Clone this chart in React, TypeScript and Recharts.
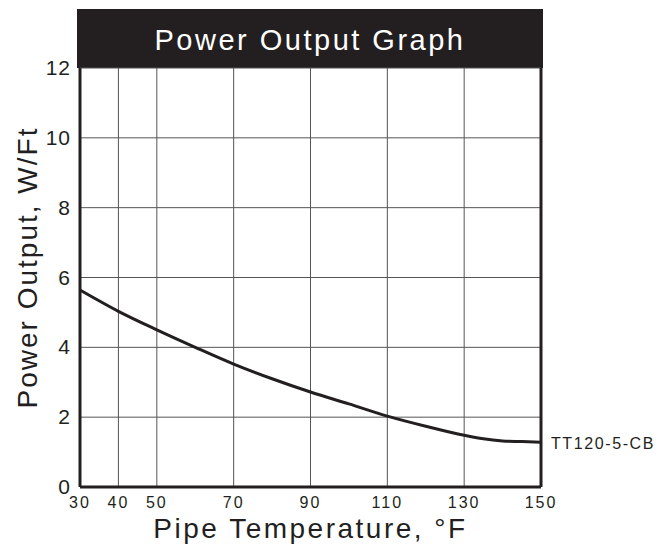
import React from 'react'
import { LineChart, Line, XAxis, YAxis, CartesianGrid, ReferenceLine, Label, LabelList } from 'recharts'

// Power output of TT120-5-CB vs. pipe temperature
const temps = [30, 40, 50, 60, 70, 80, 90, 100, 110, 120, 130, 135, 140, 145, 150]
const output = [5.64, 5.03, 4.5, 4.0, 3.52, 3.1, 2.72, 2.38, 2.03, 1.74, 1.48, 1.38, 1.32, 1.3, 1.28]
const xTicks = [30, 40, 50, 70, 90, 110, 130, 150]
const yTicks = [0, 2, 4, 6, 8, 10, 12]
const seriesName = 'TT120-5-CB'

const INK = '#231f20'
const FONT = '"Liberation Sans", Arial, Helvetica, sans-serif'

const data = temps.map((t, i) => ({ temp: t, value: output[i] }))

const XTick = (props: any) => {
  const { x, y, payload } = props
  return (
    <text x={x} y={y + 12.5} textAnchor="middle" fontSize={16} letterSpacing={2} fill={INK} fontFamily={FONT}>
      {payload.value}
    </text>
  )
}

const YTick = (props: any) => {
  const { x, y, payload } = props
  return (
    <text x={x - 1} y={y + 7} textAnchor="end" fontSize={21} letterSpacing={1} fill={INK} fontFamily={FONT}>
      {payload.value}
    </text>
  )
}

const EndLabel = (props: any) => {
  const { x, y, index } = props
  if (index !== temps.length - 1) return null
  return (
    <text x={x + 10} y={y + 1} dominantBaseline="central" fontSize={16} letterSpacing={1.6} fill={INK} fontFamily={FONT}>
      {seriesName}
    </text>
  )
}

export default function App() {
  return (
    <div style={{ position: 'absolute', left: 0, top: 0, width: 662, height: 546, background: '#fff' }}>
      <div
        style={{
          position: 'absolute',
          left: 77,
          top: 9,
          width: 466,
          height: 59,
          background: INK,
          color: '#fff',
          fontFamily: FONT,
          fontSize: 29,
          letterSpacing: 2.5,
          lineHeight: '62px',
          textAlign: 'center',
        }}
      >
        Power Output Graph
      </div>
      <LineChart width={662} height={546} data={data} margin={{ top: 68, right: 121, bottom: 29, left: 10 }}>
        <CartesianGrid stroke="#555" strokeWidth={1} />
        <XAxis
          dataKey="temp"
          type="number"
          domain={[30, 150]}
          ticks={xTicks}
          height={30}
          tickLine={false}
          axisLine={{ stroke: INK, strokeWidth: 3 }}
          tick={<XTick />}
          interval={0}
        >
          <Label
            content={(p: any) => {
              const vb = p.viewBox
              return (
                <text
                  x={vb.x + vb.width / 2}
                  y={vb.y + 51}
                  textAnchor="middle"
                  fontSize={28}
                  letterSpacing={2.5}
                  fill={INK}
                  fontFamily={FONT}
                >
                  Pipe Temperature, °F
                </text>
              )
            }}
          />
        </XAxis>
        <YAxis
          type="number"
          domain={[0, 12]}
          ticks={yTicks}
          width={70}
          tickLine={false}
          axisLine={{ stroke: INK, strokeWidth: 3 }}
          tick={<YTick />}
          interval={0}
        >
          <Label
            content={(p: any) => {
              const vb = p.viewBox
              const cx = vb.x + 27
              const cy = vb.y + vb.height / 2 - 10
              return (
                <text
                  x={cx}
                  y={cy}
                  transform={`rotate(-90 ${cx} ${cy})`}
                  textAnchor="middle"
                  fontSize={28}
                  letterSpacing={2}
                  fill={INK}
                  fontFamily={FONT}
                >
                  Power Output, W/Ft
                </text>
              )
            }}
          />
        </YAxis>
        <ReferenceLine x={150} stroke={INK} strokeWidth={3} />
        <Line
          type="monotone"
          dataKey="value"
          stroke={INK}
          strokeWidth={3}
          dot={false}
          isAnimationActive={false}
        >
          <LabelList dataKey="value" content={<EndLabel />} />
        </Line>
      </LineChart>
    </div>
  )
}
